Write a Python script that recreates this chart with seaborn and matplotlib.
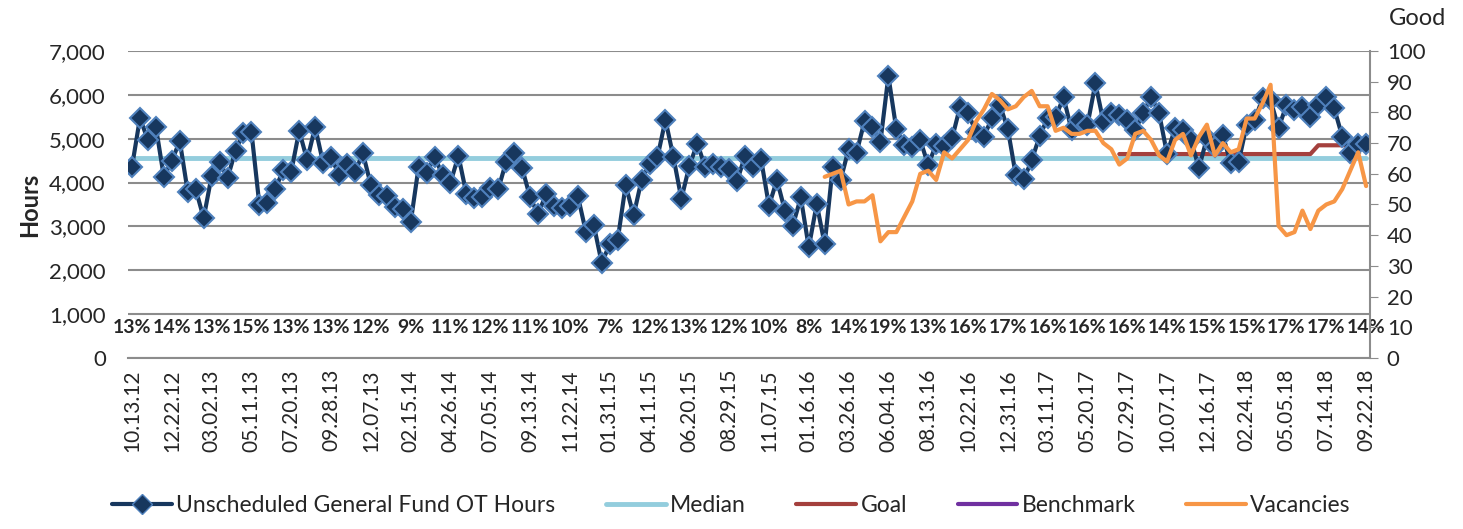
import matplotlib
matplotlib.use('Agg')
import matplotlib.pyplot as plt
from matplotlib.lines import Line2D
from matplotlib.ticker import FuncFormatter
import numpy as np
import pandas as pd
import seaborn as sns

# biweekly unscheduled OT hours, 10.13.12 .. 09.22.18
ot_hours = [
    4360, 5470, 4970, 5270, 4130, 4490, 4950, 3790, 3850, 3190,
    4150, 4480, 4100, 4730, 5140, 5160, 3490, 3540, 3850, 4290,
    4250, 5180, 4510, 5270, 4450, 4590, 4170, 4420, 4230, 4670,
    3940, 3720, 3700, 3450, 3390, 3090, 4360, 4210, 4590, 4170,
    4000, 4610, 3740, 3640, 3660, 3880, 3850, 4480, 4670, 4330,
    3660, 3280, 3730, 3470, 3410, 3470, 3690, 2880, 3030, 2160,
    2600, 2690, 3940, 3250, 4060, 4420, 4580, 5430, 4580, 3630,
    4380, 4890, 4350, 4420, 4350, 4320, 4040, 4610, 4350, 4540,
    3470, 4060, 3360, 3020, 3660, 2520, 3510, 2590, 4350, 4060,
    4760, 4680, 5400, 5260, 4930, 6430, 5210, 4860, 4820, 4970,
    4400, 4870, 4840, 5010, 5730, 5580, 5160, 5050, 5470, 5770,
    5220, 4170, 4070, 4510, 5060, 5470, 5500, 5940, 5200, 5430,
    5310, 6260, 5390, 5580, 5540, 5430, 5200, 5580, 5960, 5580,
    4650, 5240, 5200, 4970, 4330, 5010, 4820, 5080, 4440, 4480,
    5310, 5430, 5920, 5880, 5240, 5770, 5650, 5730, 5500, 5770,
    5960, 5690, 5050, 4670, 4890, 4890,
]
median_hours = 4550

# goal starts at period 124 and steps up near the end
goal_start = 124
goal_hours = [4650] * 25 + [4850] * 7

# vacancies start at period 87 (right axis)
vac_start = 87
vacancies = [
    59, 60, 61, 50, 51, 51, 53, 38, 41, 41,
    46, 51, 60, 61, 58, 67, 65, 68, 71, 77,
    81, 86, 84, 81, 82, 85, 87, 82, 82, 74,
    75, 73, 73, 74, 74, 70, 68, 63, 65, 73,
    74, 71, 66, 64, 71, 73, 66, 72, 76, 66,
    70, 67, 68, 78, 78, 83, 89, 43, 40, 41,
    48, 42, 48, 50, 51, 55, 61, 67, 56,
]

date_labels = [
    "10.13.12", "12.22.12", "03.02.13", "05.11.13", "07.20.13", "09.28.13",
    "12.07.13", "02.15.14", "04.26.14", "07.05.14", "09.13.14", "11.22.14",
    "01.31.15", "04.11.15", "06.20.15", "08.29.15", "11.07.15", "01.16.16",
    "03.26.16", "06.04.16", "08.13.16", "10.22.16", "12.31.16", "03.11.17",
    "05.20.17", "07.29.17", "10.07.17", "12.16.17", "02.24.18", "05.05.18",
    "07.14.18", "09.22.18",
]
pct_labels = [13, 14, 13, 15, 13, 13, 12, 9, 11, 12, 11, 10, 7, 12, 13, 12,
              10, 8, 14, 19, 13, 16, 17, 16, 16, 16, 14, 15, 15, 17, 17, 14]

n = len(ot_hours)
df = pd.DataFrame({"period": np.arange(n), "hours": ot_hours,
                   "median": [median_hours] * n})
goal_df = pd.DataFrame({"period": np.arange(goal_start, goal_start + len(goal_hours)),
                        "goal": goal_hours})
vac_df = pd.DataFrame({"period": np.arange(vac_start, vac_start + len(vacancies)),
                       "vac": vacancies})

sns.set_style("white")
plt.rcParams['font.family'] = ['Lato', 'DejaVu Sans']

navy = "#17375e"
light_blue = "#93cddd"
goal_red = "#a4403d"
purple = "#7030a0"
orange = "#f79646"
grid_grey = "#8c8c8c"

fig = plt.figure(figsize=(14.63, 5.29), dpi=100)
ax = fig.add_axes([0.0875, 0.3233, 0.849, 0.5803])

sns.lineplot(data=df, x="period", y="median", ax=ax, color=light_blue, lw=3.5, zorder=3)
sns.lineplot(data=goal_df, x="period", y="goal", ax=ax, color=goal_red, lw=3, zorder=4)
sns.lineplot(data=df, x="period", y="hours", ax=ax, color=navy, lw=3, marker="D",
             markersize=10.5, markerfacecolor=navy, markeredgecolor="#4f81bd",
             markeredgewidth=1.5, zorder=5)

ax.set_xlim(-0.5, n - 0.5)
ax.set_ylim(0, 7000)
ax.set_yticks(range(0, 7001, 1000))
ax.yaxis.set_major_formatter(FuncFormatter(lambda v, p: f"{int(v):,}"))
ax.set_xticks(range(0, n, 5))
ax.set_xticklabels(date_labels, rotation=90, fontsize=15)
ax.tick_params(axis='x', length=0, pad=8)
ax.tick_params(axis='y', length=0, labelsize=16, pad=16)
ax.grid(axis='y', color=grid_grey, lw=1.5)
ax.set_axisbelow(True)
for s in ["left", "top", "right"]:
    ax.spines[s].set_visible(False)
ax.spines["bottom"].set_color(grid_grey)
ax.spines["bottom"].set_linewidth(1.5)
ax.set_xlabel("")
ax.set_ylabel("Hours", fontsize=17, fontweight="bold", labelpad=6)

for k, p in enumerate(pct_labels):
    ax.text(k * 5, 700, f"{p}%", ha="center", va="center", fontsize=14,
            fontweight="bold", zorder=6)

ax2 = ax.twinx()
sns.lineplot(data=vac_df, x="period", y="vac", ax=ax2, color=orange, lw=3)
ax2.set_ylim(0, 100)
ax2.set_yticks(range(0, 101, 10))
ax2.tick_params(axis='y', direction='out', length=6, color=grid_grey, labelsize=16, pad=6)
for s in ["left", "top", "bottom"]:
    ax2.spines[s].set_visible(False)
ax2.spines["right"].set_color(grid_grey)
ax2.spines["right"].set_linewidth(1.5)
ax2.set_ylabel("Good", rotation=0, fontsize=17, ha="center", va="center")
ax2.yaxis.set_label_coords(1.038, 1.107)
ax2.set_xlim(-0.5, n - 0.5)

handles = [
    Line2D([0], [0], color=navy, lw=3, marker="D", markersize=10,
           markerfacecolor=navy, markeredgecolor="#4f81bd"),
    Line2D([0], [0], color=light_blue, lw=3.5),
    Line2D([0], [0], color=goal_red, lw=3),
    Line2D([0], [0], color=purple, lw=3),
    Line2D([0], [0], color=orange, lw=3),
]
labels = ["Unscheduled General Fund OT Hours", "Median", "Goal", "Benchmark", "Vacancies"]
fig.legend(handles, labels, loc="lower center", bbox_to_anchor=(0.5, -0.015), ncol=5,
           frameon=False, fontsize=16.5, handlelength=2.6, columnspacing=2.2,
           handletextpad=0.2)

fig.savefig("out.png", dpi=100)
